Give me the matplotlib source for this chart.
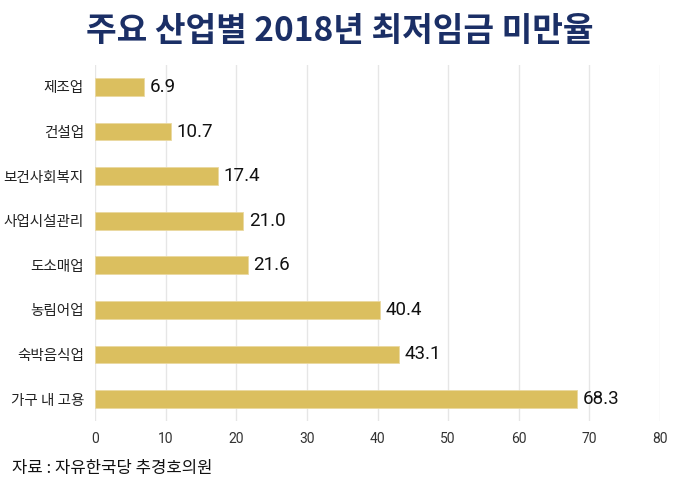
import matplotlib
matplotlib.use("Agg")
import matplotlib.pyplot as plt
from matplotlib import font_manager

plt.rcParams['font.family'] = ['Noto Sans CJK KR', 'DejaVu Sans']

categories = ["제조업", "건설업", "보건사회복지", "사업시설관리", "도소매업", "농림어업", "숙박음식업", "가구 내 고용"]
values = [6.9, 10.7, 17.4, 21.0, 21.6, 40.4, 43.1, 68.3]
xticks = [0, 10, 20, 30, 40, 50, 60, 70, 80]
title = "주요 산업별 2018년 최저임금 미만율"
source = "자료 : 자유한국당 추경호의원"

names = {f.name for f in font_manager.fontManager.ttflist}
narrow = "Liberation Sans Narrow" if "Liberation Sans Narrow" in names else "Roboto"

fig = plt.figure(figsize=(6.8, 4.86), dpi=100)
ax = fig.add_axes([0.1397, 0.1331, 0.8309, 0.7338])

ypos = list(range(len(categories)))
ax.barh(ypos, values, height=0.4, color="#DBBF5F", edgecolor="#EAD9A0", linewidth=0.6, zorder=3)
for y, v in zip(ypos, values):
    ax.text(v + 0.8, y, f"{v:.1f}", va="center", ha="left", fontsize=13.5,
            color="#111111", zorder=4, family=["Roboto", "DejaVu Sans"])

ax.set_ylim(len(categories) - 0.5, -0.5)
ax.set_xlim(0, 80)
ax.set_yticks(ypos)
ax.set_yticklabels(categories, fontsize=10.5, color="#222222")
ax.set_xticks(xticks)
ax.set_xticklabels([str(t) for t in xticks], fontsize=10, color="#333333", family=[narrow, "DejaVu Sans"])
ax.tick_params(axis="y", length=0, pad=8)
ax.tick_params(axis="x", length=0, pad=8)
ax.grid(axis="x", color="#E6E6E6", linewidth=1, zorder=0)
for s in ax.spines.values():
    s.set_visible(False)

fig.text(0.5, 0.936, title, ha="center", va="center", fontsize=24, fontweight="bold", color="#1B2F66")
fig.text(0.017, 0.037, source, ha="left", va="center", fontsize=12, color="#111111")

fig.savefig("out.png", dpi=100)
